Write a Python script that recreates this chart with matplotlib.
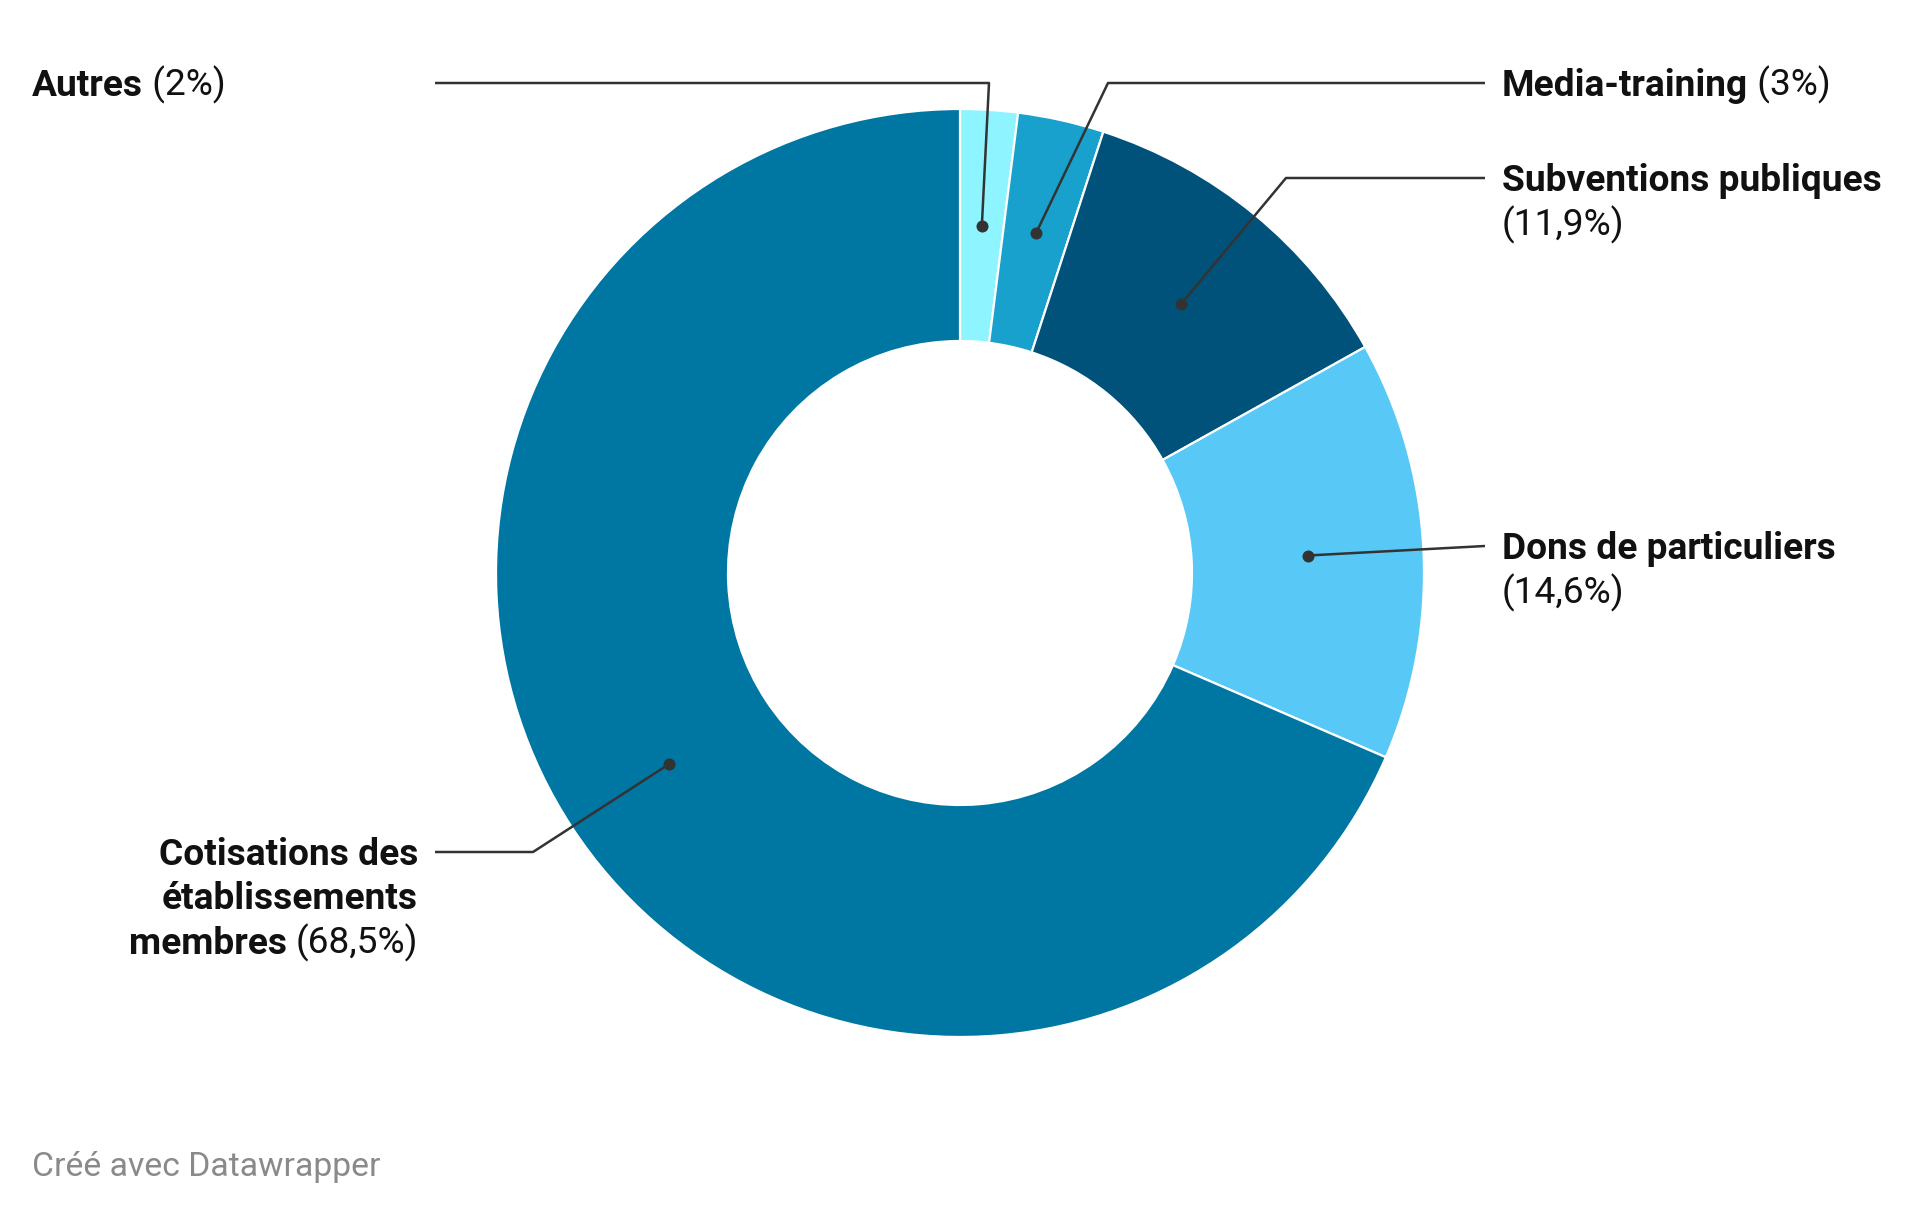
import numpy as np
import matplotlib.pyplot as plt

plt.rcParams['font.family'] = ['Roboto', 'DejaVu Sans']

labels = ['Autres', 'Media-training', 'Subventions publiques',
          'Dons de particuliers', 'Cotisations des établissements membres']
values = [2, 3, 11.9, 14.6, 68.5]
pct_text = ['(2%)', '(3%)', '(11,9%)', '(14,6%)', '(68,5%)']
colors = ['#8ef4ff', '#18a1cd', '#00527a', '#58c9f6', '#0077a3']

W, H = 1920, 1217
cx, cy, R = 960, 573, 464
FS = 26.7
INK = '#111111'
LINE = '#333333'

fig = plt.figure(figsize=(W / 100, H / 100), dpi=100)
ax = fig.add_axes([0, 0, 1, 1])

ax.pie(values, colors=colors, radius=R, center=(cx, cy),
       startangle=-90, counterclock=True,
       wedgeprops=dict(width=R * 0.5, edgecolor='white', linewidth=1.6))
ax.set_xlim(0, W)
ax.set_ylim(H, 0)
ax.set_aspect('equal')
ax.axis('off')

# dot positions in the middle of each ring segment
cum = np.cumsum(values) - np.array(values) / 2
theta = np.radians(-90 + 360 * cum / sum(values))
dots_x = cx + R * 0.75 * np.cos(theta)
dots_y = cy + R * 0.75 * np.sin(theta)

# leader line paths: label end, elbow, then dot
paths = [
    [(435, 83), (989, 83)],
    [(1485, 83), (1108, 83)],
    [(1485, 178), (1286, 178)],
    [(1485, 546)],
    [(435, 852), (533, 852)],
]
for i, p in enumerate(paths):
    xs = [q[0] for q in p] + [dots_x[i]]
    ys = [q[1] for q in p] + [dots_y[i]]
    ax.plot(xs, ys, color=LINE, lw=1.8, solid_capstyle='butt', zorder=3)
    ax.scatter([dots_x[i]], [dots_y[i]], s=75, color=LINE, zorder=4, lw=0)


def bold_then_regular(x, y, bold, regular):
    t = ax.text(x, y, bold, fontsize=FS, fontweight='bold', color=INK,
                ha='left', va='baseline')
    ax.annotate(' ' + regular, xy=(1, 0), xycoords=t, fontsize=FS,
                color=INK, ha='left', va='bottom')


bold_then_regular(32, 96, labels[0], pct_text[0])
bold_then_regular(1502, 96, labels[1], pct_text[1])

ax.text(1502, 191, labels[2], fontsize=FS, fontweight='bold', color=INK,
        va='baseline')
ax.text(1502, 235, pct_text[2], fontsize=FS, color=INK, va='baseline')

ax.text(1502, 559, labels[3], fontsize=FS, fontweight='bold', color=INK,
        va='baseline')
ax.text(1502, 603, pct_text[3], fontsize=FS, color=INK, va='baseline')

ax.text(418, 865, 'Cotisations des', fontsize=FS, fontweight='bold',
        color=INK, ha='right', va='baseline')
ax.text(418, 909, 'établissements', fontsize=FS, fontweight='bold',
        color=INK, ha='right', va='baseline')
tp = ax.text(418, 953, pct_text[4], fontsize=FS, color=INK, ha='right',
             va='baseline')
ax.annotate('membres', xy=(0, 0), xycoords=tp, xytext=(-6, 0),
            textcoords='offset points', fontsize=FS, fontweight='bold',
            color=INK, ha='right', va='bottom')

ax.text(32, 1176, 'Créé avec Datawrapper', fontsize=24.3, color='#8a8a8a',
        va='baseline')

fig.savefig('out.png', dpi=100, facecolor='white')
